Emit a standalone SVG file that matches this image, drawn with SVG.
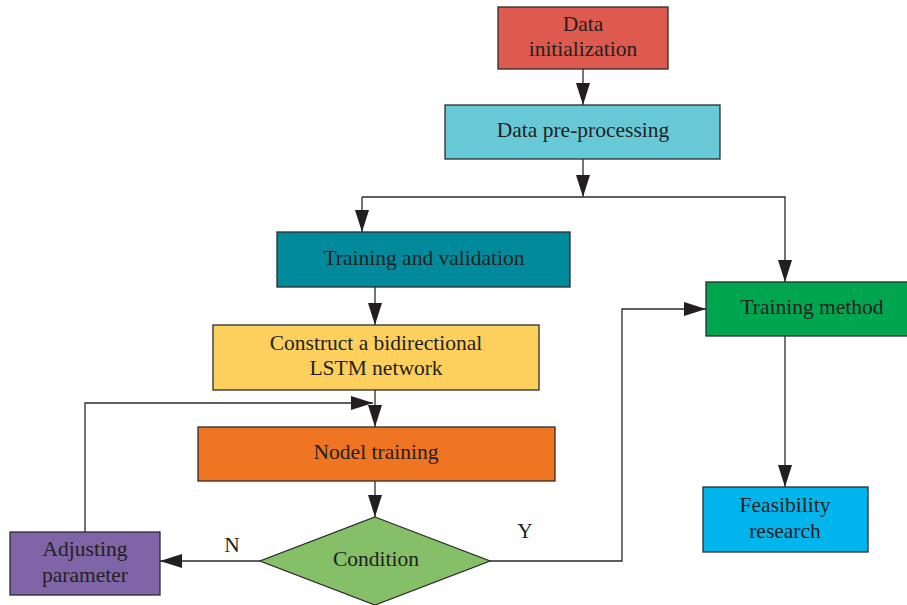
<svg xmlns="http://www.w3.org/2000/svg" width="907" height="605" viewBox="0 0 907 605">
<defs>
<style>
.box{stroke:#2b2b2b;stroke-width:1.3}
.t{font-family:'Liberation Serif','DejaVu Serif',serif;font-size:21.5px;fill:#231f20;text-anchor:middle}
.ln{fill:none;stroke:#2b2b2b;stroke-width:1.3}
</style>
<marker id="ah" markerWidth="22" markerHeight="14" refX="22" refY="7" orient="auto" markerUnits="userSpaceOnUse">
<path d="M0,0 L22,7 L0,14 Z" fill="#231f20"/>
</marker>
</defs>
<rect width="907" height="605" fill="#ffffff"/>
<g id="connectors">
<line class="ln" x1="583" y1="69" x2="583" y2="105" marker-end="url(#ah)"/>
<line class="ln" x1="583" y1="159" x2="583" y2="197" marker-end="url(#ah)"/>
<polyline class="ln" points="362,197 785,197 785,282" marker-end="url(#ah)"/>
<line class="ln" x1="362" y1="197" x2="362" y2="232" marker-end="url(#ah)"/>
<line class="ln" x1="375" y1="287" x2="375" y2="325" marker-end="url(#ah)"/>
<line class="ln" x1="375" y1="390" x2="375" y2="427" marker-end="url(#ah)"/>
<polyline class="ln" points="85,532 85,403 373,403" marker-end="url(#ah)"/>
<line class="ln" x1="375" y1="481" x2="375" y2="517" marker-end="url(#ah)"/>
<line class="ln" x1="260" y1="561" x2="160" y2="561" marker-end="url(#ah)"/>
<polyline class="ln" points="490,561 622,561 622,309 706,309" marker-end="url(#ah)"/>
<line class="ln" x1="785" y1="336" x2="785" y2="487" marker-end="url(#ah)"/>
<text class="t" x="232" y="552">N</text>
<text class="t" x="525" y="538">Y</text>
</g>
<g id="data-init">
<rect class="box" x="498" y="7" width="170" height="62" fill="#df5a4e"/>
<text class="t" x="583" y="31">Data</text>
<text class="t" x="583" y="56">initialization</text>
</g>
<g id="pre-processing">
<rect class="box" x="445" y="105" width="275" height="54" fill="#67c9d6"/>
<text class="t" x="583" y="137">Data pre-processing</text>
</g>
<g id="training-validation">
<rect class="box" x="277" y="232" width="293" height="55" fill="#008a9c"/>
<text class="t" x="424" y="265">Training and validation</text>
</g>
<g id="construct">
<rect class="box" x="213" y="325" width="326" height="65" fill="#fdd05e"/>
<text class="t" x="376" y="350">Construct a bidirectional</text>
<text class="t" x="376" y="375">LSTM network</text>
</g>
<g id="nodel-training">
<rect class="box" x="198" y="427" width="357" height="54" fill="#f07522"/>
<text class="t" x="376" y="459">Nodel training</text>
</g>
<g id="condition">
<polygon class="box" points="375,517 490,561 375,605 260,561" fill="#85c068"/>
<text class="t" x="376" y="566">Condition</text>
</g>
<g id="adjusting">
<rect class="box" x="10" y="532" width="150" height="63" fill="#7f65a8"/>
<text class="t" x="85" y="556">Adjusting</text>
<text class="t" x="85" y="582">parameter</text>
</g>
<g id="training-method">
<rect class="box" x="706" y="282" width="205" height="54" fill="#00a550"/>
<text class="t" x="812" y="314">Training method</text>
</g>
<g id="feasibility">
<rect class="box" x="703" y="487" width="165" height="65" fill="#00b4ec"/>
<text class="t" x="785" y="512">Feasibility</text>
<text class="t" x="785" y="538">research</text>
</g>
</svg>
